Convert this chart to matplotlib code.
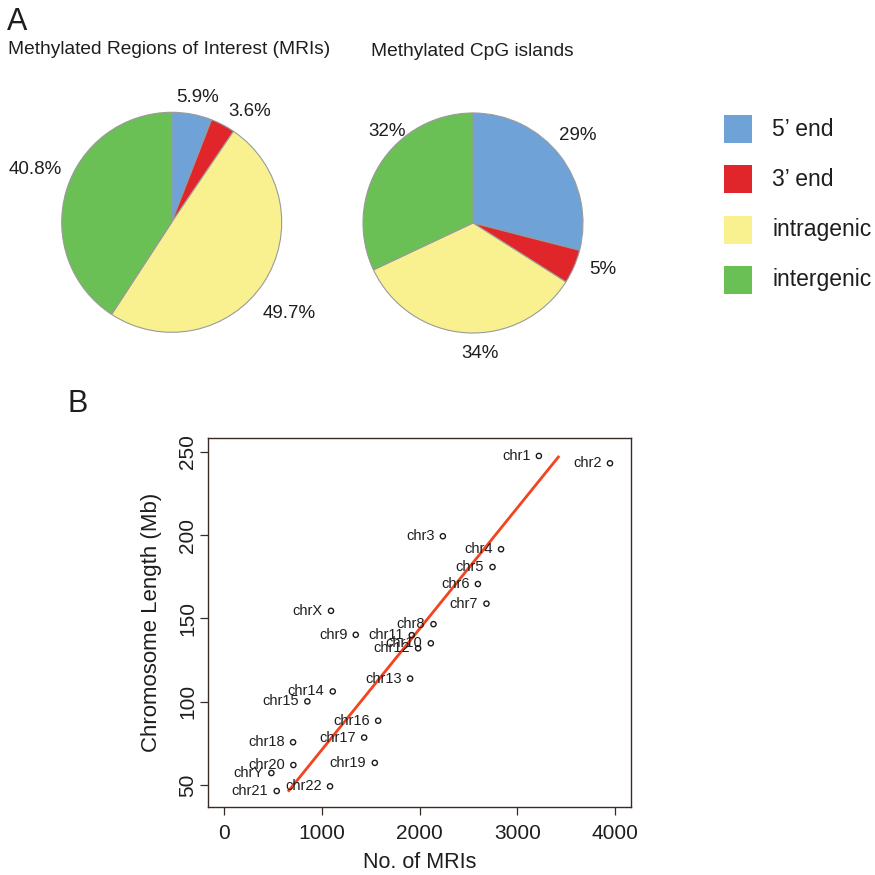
import matplotlib
matplotlib.use("Agg")
import matplotlib.pyplot as plt
import numpy as np

plt.rcParams['font.family'] = ['Liberation Sans', 'DejaVu Sans']

# ---------------- data ----------------
categories = ["5\u2019 end", "3\u2019 end", "intragenic", "intergenic"]
mri_pct = [5.9, 3.6, 49.7, 40.8]
mri_labels = ["5.9%", "3.6%", "49.7%", "40.8%"]
cpg_pct = [29, 5, 34, 32]
cpg_labels = ["29%", "5%", "34%", "32%"]
colors = ["#6fa3d8", "#e0262b", "#f9f18f", "#6abf55"]

chrom = ["chr1", "chr2", "chr3", "chr4", "chr5", "chr6", "chr7", "chrX", "chr8",
         "chr9", "chr11", "chr10", "chr12", "chr13", "chr14", "chr15", "chr16",
         "chr17", "chr18", "chr19", "chr20", "chrY", "chr21", "chr22"]
n_mri = [3221, 3948, 2239, 2834, 2747, 2597, 2685, 1095, 2143,
         1348, 1921, 2116, 1986, 1904, 1113, 853, 1577,
         1434, 707, 1543, 710, 485, 540, 1085]
length_mb = [247.6, 243.2, 199.4, 191.6, 180.9, 170.7, 158.9, 154.6, 146.6,
             140.2, 140.0, 135.1, 132.1, 113.9, 106.2, 100.2, 88.6,
             78.5, 75.7, 63.3, 62.0, 57.2, 46.4, 49.2]
fit_x = [655, 3429]
fit_y = [46.0, 247.6]
xticks = [0, 1000, 2000, 3000, 4000]
yticks = [50, 100, 150, 200, 250]

# ---------------- layout helpers ----------------
W = H = 875
fig = plt.figure(figsize=(8.75, 8.75), dpi=100)
TXT = "#1e1e1e"

def rect(l, t, r, b):
    return [l / W, 1 - b / H, (r - l) / W, (b - t) / H]

def ftext(x, y, s, **kw):
    fig.text(x / W, 1 - y / H, s, **kw)

# panel letters and titles
ftext(7, 22, "A", fontsize=22, color=TXT, va="center", ha="left")
ftext(8, 50, "Methylated Regions of Interest (MRIs)", fontsize=13.8, color=TXT, va="center", ha="left")
ftext(371, 51, "Methylated CpG islands", fontsize=13.8, color=TXT, va="center", ha="left")
ftext(68, 404, "B", fontsize=22, color=TXT, va="center", ha="left")

# ---------------- pies ----------------
def draw_pie(cx, cy, r, vals, labels, label_pos):
    ax = fig.add_axes(rect(cx - r, cy - r, cx + r, cy + r))
    ax.pie(vals, colors=colors, startangle=90, counterclock=False, radius=1,
           wedgeprops=dict(edgecolor="#9a9a9a", linewidth=0.8))
    ax.set_xlim(-1, 1)
    ax.set_ylim(-1, 1)
    ax.set_aspect("equal")
    ax.axis("off")
    for lab, (px, py) in zip(labels, label_pos):
        ax.text((px - cx) / r, (cy - py) / r, lab, fontsize=13.5, color=TXT,
                ha="center", va="center", clip_on=False)
    return ax

draw_pie(171.7, 222.3, 110, mri_pct, mri_labels,
         [(198, 97), (250, 112), (289, 314), (35, 169)])
draw_pie(473, 223, 110, cpg_pct, cpg_labels,
         [(578, 135), (603, 269), (480, 353), (387, 132)])

# legend
for i, (c, lab) in enumerate(zip(colors, categories)):
    yc = 129 + i * 50.3
    lax = fig.add_axes(rect(724, yc - 14, 752, yc + 14))
    lax.add_patch(plt.Rectangle((0, 0), 1, 1, facecolor=c, edgecolor="none"))
    lax.set_xlim(0, 1); lax.set_ylim(0, 1); lax.axis("off")
    ftext(772, yc, lab, fontsize=16.5, color=TXT, va="center", ha="left")

# ---------------- scatter ----------------
ax = fig.add_axes(rect(208.3, 438.3, 630.7, 807))
ax.plot(fit_x, fit_y, color="#f2441f", linewidth=2.0, solid_capstyle="butt", zorder=2)
ax.scatter(n_mri, length_mb, s=14, facecolors="none", edgecolors="#1a1a1a",
           linewidths=1.0, zorder=3)
for name, x, y in zip(chrom, n_mri, length_mb):
    ax.annotate(name, (x, y), xytext=(-6, 0), textcoords="offset points",
                ha="right", va="center", fontsize=10.5, color=TXT, zorder=4)
ax.set_xlim(-160, 4160)
ax.set_ylim(36.8, 258.2)
ax.set_xticks(xticks)
ax.set_yticks(yticks)
ax.tick_params(axis="both", labelsize=15, colors="#3a2a25", labelcolor=TXT,
               length=6, width=0.9, pad=6)
ax.tick_params(axis="y", labelrotation=90, pad=2)
for lbl in ax.get_yticklabels():
    lbl.set_va("center")
for sp in ax.spines.values():
    sp.set_color("#3a2a25")
    sp.set_linewidth(1.0)
ax.set_xlabel("No. of MRIs", fontsize=15.5, color=TXT, labelpad=7)
ax.set_ylabel("Chromosome Length (Mb)", fontsize=16, color=TXT, labelpad=12)

fig.savefig("out.png", dpi=100, facecolor="white")
